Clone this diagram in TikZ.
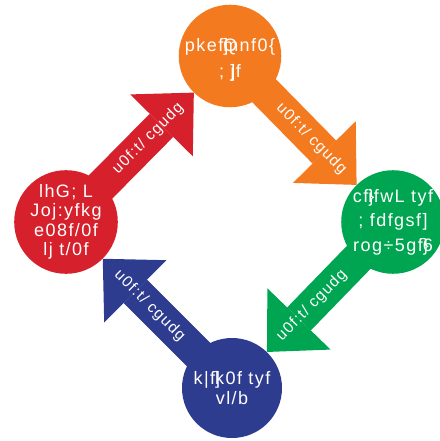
\documentclass[tikz,border=0pt]{standalone}
\usepackage{fontspec}
\setmainfont{Liberation Sans}
\newfontfamily\blobfont{Liberation Sans}[LetterSpace=8]
\usetikzlibrary{arrows.meta,backgrounds}

\definecolor{cyorange}{HTML}{F47A20}
\definecolor{cygreen}{HTML}{00A551}
\definecolor{cyred}{HTML}{D6202B}
\definecolor{cyblue}{HTML}{2E3C8F}

\tikzset{
    stage/.style={circle, minimum size=100pt, inner sep=0pt, text=white, align=center,
        font=\blobfont\fontsize{18}{19.5}\selectfont},
    flow/.style={line width=33pt, shorten <=-12pt,
        -{Triangle[length=46pt, width=88pt, line width=0pt]}},
    flowlabel/.style={midway, sloped, text=white, font=\blobfont\fontsize{15.5}{17}\selectfont}
}

\begin{document}
\begin{tikzpicture}[x=1pt, y=-1pt]
        \useasboundingbox (0,0) rectangle (439,441);

        \node[stage, fill=cyorange] (user) at (230,56) {{}\\[1pt]pkef\rlap{]}\rlap{Q}mnf0\{\\[6pt]; \rlap{]}jf};
        \node[stage, fill=cygreen] (select) at (393,222) {cf\rlap{\}}ifwL tyf\\[5pt]; fdfgsf]\\[5pt]rog÷5gf\rlap{\}}6};
        \node[stage, fill=cyblue] (buy) at (232,388) {k|f\rlap{]}k0f tyf\\vl/b};
        \node[stage, fill=cyred] (store) at (66,222) {lhG; L\\Joj:yfkg\\e08f/0f\\lj t/0f};

        \begin{scope}[on background layer]
            \draw[flow, cyred] (store) -- (user) node[flowlabel] {u0f:t/ cgudg};
            \draw[flow, cyorange] (user) -- (select) node[flowlabel] {u0f:t/ cgudg};
            \draw[flow, cygreen] (select) -- (buy) node[flowlabel] {u0f:t/ cgudg};
            \draw[flow, cyblue] (buy) -- (store) node[flowlabel] {u0f:t/ cgudg};
        \end{scope}
    \end{tikzpicture}
\end{document}
